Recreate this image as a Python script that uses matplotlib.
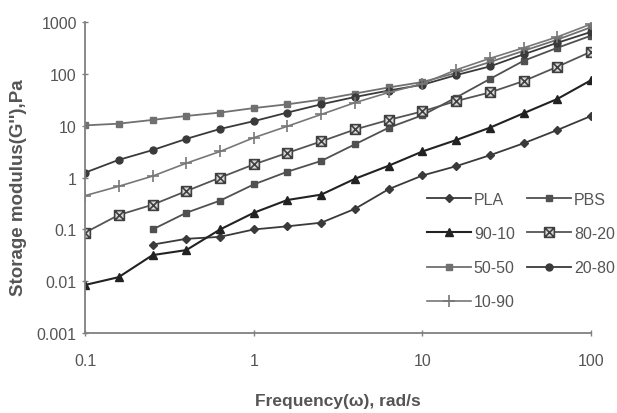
import matplotlib
matplotlib.use("Agg")
import matplotlib.pyplot as plt
import numpy as np
from matplotlib.path import Path

plt.rcParams['font.family'] = ['Liberation Sans', 'DejaVu Sans']

freq = [0.1, 0.158, 0.251, 0.398, 0.631, 1.0, 1.58, 2.51, 3.98, 6.31,
        10.0, 15.8, 25.1, 39.8, 63.1, 100.0]

pla = [None, None, 0.051, 0.066, 0.072, 0.10, 0.115, 0.135, 0.25, 0.6,
       1.1, 1.66, 2.7, 4.6, 8.3, 15.5]
pbs = [None, None, 0.10, 0.21, 0.36, 0.74, 1.3, 2.1, 4.4, 9.2,
       16, 35, 80, 180, 320, 550]
s90_10 = [0.0085, 0.012, 0.032, 0.04, 0.10, 0.21, 0.37, 0.47, 0.95, 1.7,
          3.2, 5.3, 9.2, 17.5, 33, 76]
s80_20 = [0.087, 0.19, 0.3, 0.55, 1.0, 1.8, 3.0, 5.0, 8.5, 13,
          19, 30, 44, 73, 138, 270]
s50_50 = [10.2, 11, 13, 15.5, 18, 22, 26, 32, 42, 55,
          70, 105, 170, 280, 460, 800]
s20_80 = [1.25, 2.2, 3.4, 5.6, 8.7, 12.3, 18, 26, 36, 48,
          62, 95, 140, 240, 400, 650]
s10_90 = [0.45, 0.68, 1.07, 1.9, 3.2, 5.9, 9.8, 16.6, 28, 44,
          65, 120, 200, 320, 520, 920]

labels = ['PLA', 'PBS', '90-10', '80-20', '50-50', '20-80', '10-90']
xticks = [0.1, 1, 10, 100]
xticklabels = ['0.1', '1', '10', '100']
yticks = [0.001, 0.01, 0.1, 1, 10, 100, 1000]
yticklabels = ['0.001', '0.01', '0.1', '1', '10', '100', '1000']

# square with X marker
verts = [(-1, -1), (1, -1), (1, 1), (-1, 1), (-1, -1),
         (-1, -1), (1, 1), (-1, 1), (1, -1)]
codes = [Path.MOVETO, Path.LINETO, Path.LINETO, Path.LINETO, Path.CLOSEPOLY,
         Path.MOVETO, Path.LINETO, Path.MOVETO, Path.LINETO]
boxx = Path(verts, codes)

fig = plt.figure(figsize=(6.17, 4.14), dpi=100)
ax = fig.add_axes([0.138, 0.193, 0.82, 0.751])

def series(vals):
    x = [f for f, v in zip(freq, vals) if v is not None]
    y = [v for v in vals if v is not None]
    return x, y

txtc = '#555555'
styles = {
    'PLA': dict(color='#3a3a3a', marker='D', ms=4.5, lw=1.3),
    'PBS': dict(color='#505050', marker='s', ms=5, lw=1.3),
    '90-10': dict(color='#222222', marker='^', ms=5.5, lw=1.5),
    '80-20': dict(color='#555555', marker=boxx, ms=7, lw=1.3, mfc='#d8d8d8', mec='#404040', mew=1.2),
    '50-50': dict(color='#707070', marker='s', ms=4.5, lw=1.3),
    '20-80': dict(color='#3a3a3a', marker='o', ms=5, lw=1.3),
    '10-90': dict(color='#777777', marker='+', ms=8, lw=1.2, mew=1.2),
}
data = {'PLA': pla, 'PBS': pbs, '90-10': s90_10, '80-20': s80_20,
        '50-50': s50_50, '20-80': s20_80, '10-90': s10_90}

handles = {}
for lab in labels:
    x, y = series(data[lab])
    h, = ax.plot(x, y, label=lab, **styles[lab])
    handles[lab] = h

ax.set_xscale('log')
ax.set_yscale('log')
ax.set_xlim(0.1, 100)
ax.set_ylim(0.001, 1000)
ax.set_xticks(xticks)
ax.set_xticklabels(xticklabels)
ax.set_yticks(yticks)
ax.set_yticklabels(yticklabels)
ax.minorticks_off()
for s in ['top', 'right']:
    ax.spines[s].set_visible(False)
for s in ['left', 'bottom']:
    ax.spines[s].set_color('#808080')
    ax.spines[s].set_linewidth(1.3)
ax.tick_params(axis='both', colors='#808080', labelcolor=txtc, labelsize=11.5,
               direction='inout', length=5, width=1.0)
ax.tick_params(axis='x', pad=12)

ax.set_xlabel('Frequency(ω), rad/s', fontsize=12.5, fontweight='bold', color=txtc, labelpad=18)
ax.set_ylabel("Storage modulus(G''),Pa", fontsize=13.5, fontweight='bold', color=txtc, labelpad=4)
ax.yaxis.set_label_coords(-0.115, 0.47)

order = ['PLA', '90-10', '50-50', '10-90', 'PBS', '80-20', '20-80']
leg = ax.legend([handles[k] for k in order], order, ncol=2, frameon=False,
                loc='lower right', bbox_to_anchor=(1.075, 0.03),
                fontsize=11.5, handlelength=2.7, handletextpad=0.2,
                columnspacing=0.8, labelspacing=1.2, labelcolor=txtc)

fig.savefig('out.png', dpi=100)
